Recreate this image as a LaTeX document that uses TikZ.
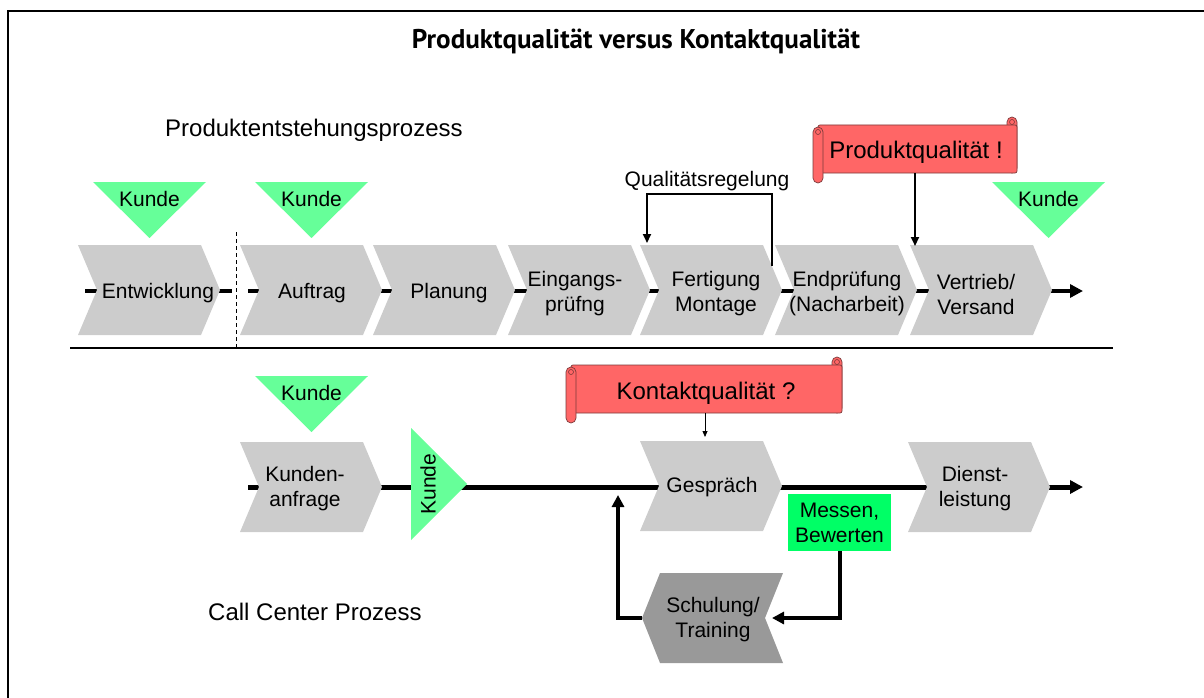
\documentclass[tikz,border=0pt]{standalone}
\usepackage{graphicx}
\usepackage{fontspec}
\setmainfont{Liberation Sans}
\newfontfamily\titlefont{PT Sans}
\usetikzlibrary{arrows.meta}

\definecolor{chevgray}{HTML}{CCCCCC}
\definecolor{darkchev}{HTML}{999999}
\definecolor{kundegreen}{HTML}{66FF99}
\definecolor{scrollred}{HTML}{FF6666}
\definecolor{scrolledge}{HTML}{7A3A3A}
\definecolor{measuregreen}{HTML}{00FF66}

% process step: chevron with top-left corner at (#1,#2)
\newcommand\chevron[3]{%
  \fill[#3] (#1,#2) -- ++(123,0) -- ++(19,45) -- ++(-19,45) -- ++(-123,0) -- ++(19,-45) -- cycle;}
% customer marker: downward triangle with top-left corner at (#2,#3)
\newcommand\kundedown[3]{%
  \fill[kundegreen] (#2,#3) -- ++(113,0) -- ++(-56.5,56) -- cycle;
  \node[lbl] (#1) at (#2+56.5,#3+17) {Kunde};}
% banner scroll: band from (#1,#2) to (#3,#4)
\newcommand\scrollshape[4]{%
  \filldraw[scrollbox, rounded corners=5pt] (#3-10,#2-8) rectangle (#3,#4);
  \filldraw[scrollbox, rounded corners=2pt] (#1+5,#2) rectangle (#3,#4);
  \filldraw[scrollbox, rounded corners=5pt] (#1,#2+2) rectangle (#1+10,#4+10);
  \draw[scrolledge, line width=0.6pt] (#3-5,#2-3) circle (2.5pt);
  \draw[scrolledge, line width=0.6pt] (#1+5,#2+7) circle (2.5pt);}

\begin{document}
\begin{tikzpicture}[x=1pt,y=-1pt,
  lbl/.style={font=\fontsize{21}{25}\selectfont, align=center, inner sep=0pt},
  headline/.style={font=\fontsize{24}{28}\selectfont, anchor=base west, inner sep=0pt},
  banner/.style={font=\fontsize{24}{28}\selectfont, anchor=base, inner sep=0pt},
  scrollbox/.style={fill=scrollred, draw=scrolledge, line width=0.7pt},
  flow/.style={line width=4.5pt},
  bigtip/.style={-{Triangle[length=13pt,width=13pt]}},
  feedback/.style={line width=4pt, -{Triangle[length=12pt,width=12pt]}},
  pointer/.style={line width=2pt, -{Triangle[length=9pt,width=8pt]}},
]
\useasboundingbox (0,0) rectangle (1204,698);

% frame
\draw[line width=2pt] (8,698) -- (8,11) -- (1204,11);

% title and section headings
\node[anchor=base, inner sep=0pt] (title) at (636,49)
  {\resizebox{448pt}{!}{\titlefont\bfseries Produktqualität versus Kontaktqualität}};
\node[headline] (prodhead) at (165,136) {Produktentstehungsprozess};
\node[headline] (callhead) at (208,620) {Call Center Prozess};

% ---------- product creation process ----------
\coordinate (pstart) at (85,291);
\coordinate (pbreak) at (232,291);
\coordinate (presume) at (248,291);
\coordinate (pend) at (1083,291);
\draw[flow] (pstart) -- (pbreak);
\draw[flow, bigtip] (presume) -- (pend);

\chevron{78}{245}{chevgray}
\chevron{240}{245}{chevgray}
\chevron{373}{245}{chevgray}
\chevron{508}{245}{chevgray}
\chevron{640}{245}{chevgray}
\chevron{775}{245}{chevgray}
\chevron{910}{245}{chevgray}

\node[lbl] (entw) at (158,293) {Entwicklung};
\node[lbl] (auftrag) at (312,293) {Auftrag};
\node[lbl] (planung) at (449,293) {Planung};
\node[lbl] (eingang) at (575,294) {Eingangs-\\prüfng};
\node[lbl] (fertigung) at (716,294) {Fertigung\\Montage};
\node[lbl] (endpr) at (847,294) {Endprüfung\\(Nacharbeit)};
\node[lbl] (vertrieb) at (976,294) {Vertrieb/\\Versand};

% boundary between development and order-driven steps
\coordinate (dtop) at (236,232);
\coordinate (dbot) at (236,348);
\draw[line width=1pt, dash pattern=on 4pt off 3pt] (dtop) -- (dbot);

\kundedown{k1}{93}{182}
\kundedown{k2}{255}{182}
\kundedown{k3}{992}{182}

% quality control loop
\node[lbl, anchor=base] (qr) at (707,186) {Qualitätsregelung};
\coordinate (qrfrom) at (772,266);
\coordinate (qrto) at (647,243);
\draw[line width=2pt, -{Triangle[length=9pt,width=8pt]}] (qrfrom) -- (772,194) -- (647,194) -- (qrto);

% product quality banner
\scrollshape{813}{125}{1017}{173}
\node[banner] (pq) at (916,158) {Produktqualität !};
\coordinate (pqfoot) at (915,173);
\coordinate (pqtarget) at (915,246);
\draw[pointer] (pqfoot) -- (pqtarget);

% separator
\coordinate (sepL) at (70,348);
\coordinate (sepR) at (1113,348);
\draw[line width=2.5pt] (sepL) -- (sepR);

% ---------- call center process ----------
\coordinate (cstart) at (248,487);
\coordinate (cend) at (1083,487);
\draw[line width=5pt, bigtip] (cstart) -- (cend);

\chevron{240}{442}{chevgray}
\chevron{640}{441}{chevgray}
\chevron{908}{442}{chevgray}
\node[lbl] (anfrage) at (305,489) {Kunden-\\anfrage};
\node[lbl] (gespraech) at (712,487) {Gespräch};
\node[lbl] (dienst) at (975,489) {Dienst-\\leistung};

\kundedown{k4}{255}{376}

% customer marker on the flow line
\fill[kundegreen] (411,428) -- (411,540) -- (467,484) -- cycle;
\node[lbl, rotate=90] (k5) at (428,484) {Kunde};

% contact quality banner
\scrollshape{566}{365}{842}{413}
\node[banner] (kq) at (706,399) {Kontaktqualität ?};
\coordinate (kqfoot) at (705,413);
\coordinate (kqtarget) at (705,437);
\draw[line width=0.8pt, -{Triangle[length=6pt,width=5pt]}] (kqfoot) -- (kqtarget);

% measure and evaluate
\node[lbl, fill=measuregreen, minimum width=103pt, minimum height=57pt] (messen) at (839.5,522.5) {Messen,\\Bewerten};

% training step (pointing back)
\fill[darkchev] (660,573) -- (783,573) -- (765,618) -- (783,663) -- (660,663) -- (642,618) -- cycle;
\node[lbl] (schulung) at (713,620) {Schulung/\\Training};
\coordinate (schulR) at (772,618);
\coordinate (schulL) at (642,618);
\coordinate (gesprIn) at (618,495);

\draw[feedback] (messen.south) |- (schulR);
\draw[feedback] (schulL) -- (618,618) -- (gesprIn);
\end{tikzpicture}
\end{document}
